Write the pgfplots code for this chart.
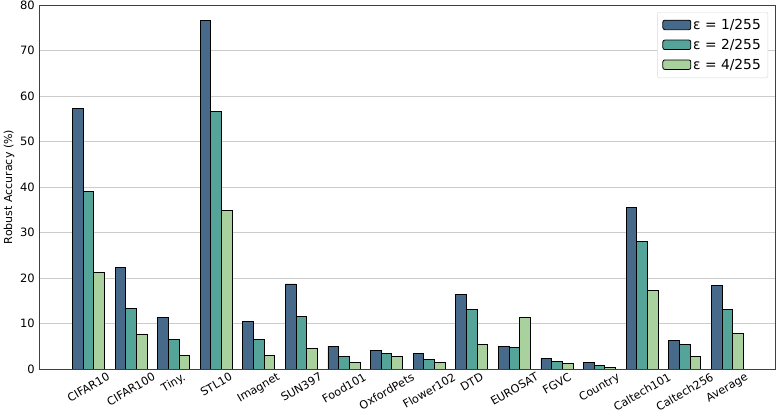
\documentclass[border=0pt]{standalone}
\usepackage{graphicx}
\usepackage{fontspec}
\setmainfont{DejaVu Sans}
\usepackage{pgfplots}
\pgfplotsset{compat=1.18}
\definecolor{cA}{HTML}{476A8A}
\definecolor{cB}{HTML}{55A49A}
\definecolor{cC}{HTML}{A9D19E}
\definecolor{gridc}{HTML}{CCCCCC}
\begin{document}
\fontsize{11}{13}\selectfont
\begin{tikzpicture}
\useasboundingbox (-39pt,-48pt) rectangle (742pt,369pt);
\begin{axis}[
  scale only axis,
  width=736pt, height=364pt,
  at={(0,0)}, anchor=south west,
  xmin=-1.16, xmax=16.12,
  ymin=0, ymax=80,
  ytick={0,10,...,80},
  xtick={0,...,15},
  xticklabels={\rotatebox{30}{CIFAR10},\rotatebox{30}{CIFAR100},\rotatebox{30}{Tiny.},\rotatebox{30}{STL10},\rotatebox{30}{Imagnet},\rotatebox{30}{SUN397},\rotatebox{30}{Food101},\rotatebox{30}{OxfordPets},\rotatebox{30}{Flower102},\rotatebox{30}{DTD},\rotatebox{30}{EUROSAT},\rotatebox{30}{FGVC},\rotatebox{30}{Country},\rotatebox{30}{Caltech101},\rotatebox{30}{Caltech256},\rotatebox{30}{Average}},
  xticklabel style={anchor=north, inner sep=0pt, yshift=-3pt, font=\fontsize{11.2}{13}\selectfont},
  yticklabel style={inner sep=0pt, xshift=-4pt, font=\fontsize{11.5}{13}\selectfont},
  /pgf/number format/assume math mode=true,
  major tick length=0pt,
  ymajorgrids,
  grid style={gridc, line width=0.8pt},
  axis line style={black!75, line width=0.8pt},
  ylabel={Robust Accuracy (\%)},
  ylabel style={font=\fontsize{11}{13}\selectfont},
  every axis y label/.style={at={(ticklabel cs:0.5)}, rotate=90, anchor=south, yshift=2pt},
  ybar,
  bar width=0.25,
  legend style={at={(1,1)}, xshift=-7pt, yshift=-7pt, anchor=north east, draw=black!15, rounded corners=2pt,
    font=\fontsize{13.8}{15}\selectfont, row sep=4pt, inner xsep=5pt, inner ysep=5pt,
    /tikz/every even column/.style={column sep=2pt}},
  legend cell align=left,
  legend image code/.code={\draw[#1, line width=0.8pt] (0pt,-4.5pt) rectangle (28pt,5pt);},
]
\addplot[fill=cA, draw=black, line width=0.8pt, bar shift=-0.25] coordinates {
(0,57.3) (1,22.3) (2,11.4) (3,76.7) (4,10.5) (5,18.7) (6,5.0) (7,4.0) (8,3.5) (9,16.3) (10,5.0) (11,2.3) (12,1.4) (13,35.5) (14,6.3) (15,18.4)};
\addlegendentry{ε = 1/255}
\addplot[fill=cB, draw=black, line width=0.8pt, bar shift=0] coordinates {
(0,39.1) (1,13.3) (2,6.4) (3,56.6) (4,6.5) (5,11.6) (6,2.8) (7,3.4) (8,2.1) (9,13.0) (10,4.8) (11,1.6) (12,0.8) (13,28.1) (14,5.4) (15,13.0)};
\addlegendentry{ε = 2/255}
\addplot[fill=cC, draw=black, line width=0.8pt, bar shift=0.25] coordinates {
(0,21.2) (1,7.7) (2,2.9) (3,34.9) (4,3.0) (5,4.5) (6,1.4) (7,2.7) (8,1.4) (9,5.3) (10,11.4) (11,1.2) (12,0.4) (13,17.3) (14,2.8) (15,7.8)};
\addlegendentry{ε = 4/255}
\end{axis}
\end{tikzpicture}
\end{document}
